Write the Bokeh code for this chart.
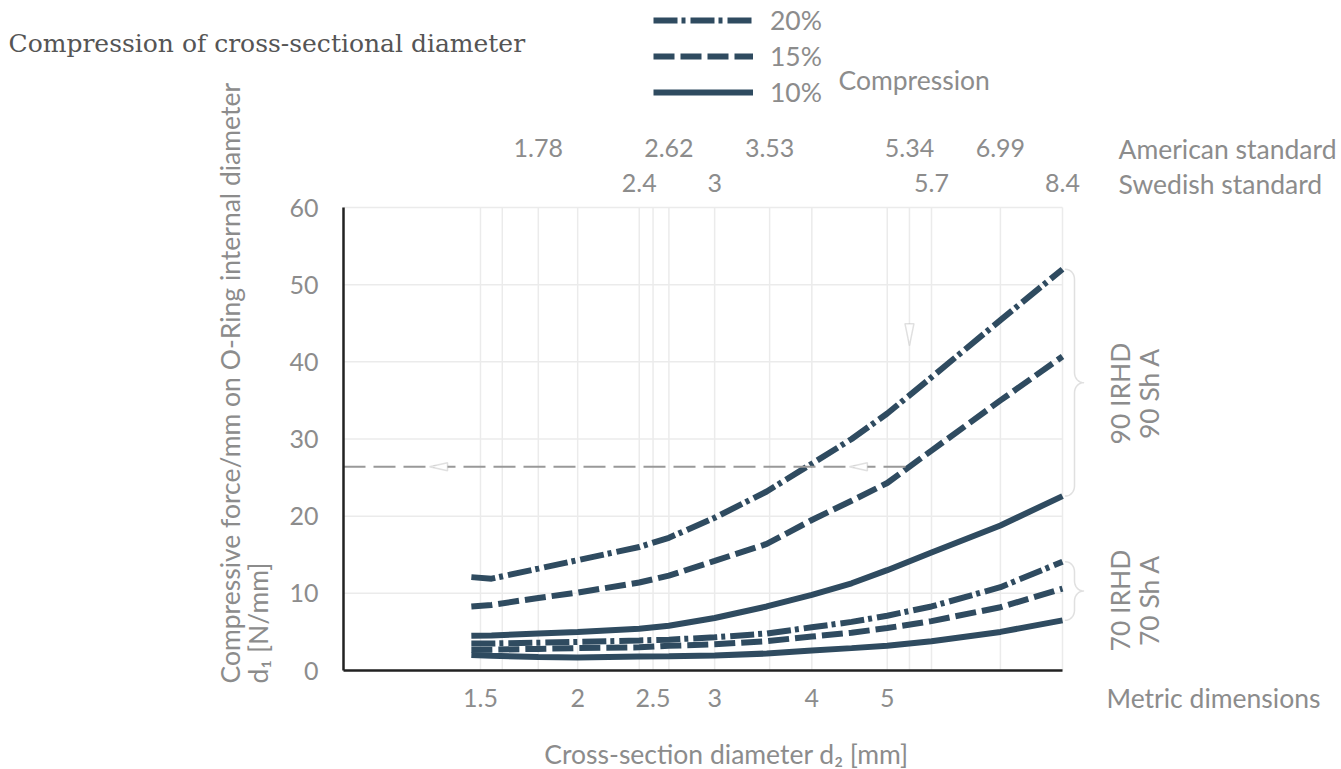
import math
import numpy as np
from bokeh.plotting import figure
from bokeh.models import (FixedTicker, LogAxis, Label, Legend, LegendItem,
                          PolyAnnotation, CustomJSTickFormatter)
from bokeh.embed import file_html
from bokeh.resources import INLINE

# ---------------- data ----------------
d2 = [1.46, 1.55, 1.78, 2.0, 2.4, 2.62, 3.0, 3.5, 4.0, 4.5, 5.0, 5.7, 6.99, 8.4]
f90_20 = [12.1, 11.9, 13.2, 14.3, 16.0, 17.2, 19.8, 23.2, 26.8, 30.0, 33.3, 38.0, 45.4, 52.0]
f90_15 = [8.3, 8.5, 9.4, 10.1, 11.4, 12.3, 14.2, 16.4, 19.5, 22.0, 24.3, 28.5, 35.0, 40.7]
f90_10 = [4.5, 4.55, 4.8, 5.0, 5.4, 5.8, 6.8, 8.3, 9.8, 11.3, 13.0, 15.3, 18.8, 22.6]
f70_20 = [3.5, 3.5, 3.6, 3.7, 3.9, 4.0, 4.3, 4.8, 5.6, 6.3, 7.1, 8.3, 10.8, 14.1]
f70_15 = [2.7, 2.7, 2.8, 2.9, 3.0, 3.2, 3.4, 3.8, 4.4, 4.9, 5.5, 6.4, 8.2, 10.6]
f70_10 = [2.0, 1.9, 1.75, 1.7, 1.8, 1.85, 1.95, 2.2, 2.6, 2.9, 3.2, 3.8, 5.0, 6.5]

compression_labels = ["20%", "15%", "10%"]

metric_ticks = [1.5, 2, 2.5, 3, 4, 5]
metric_labels = ["1.5", "2", "2.5", "3", "4", "5"]
american_ticks = [1.78, 2.62, 3.53, 5.34, 6.99]
american_labels = ["1.78", "2.62", "3.53", "5.34", "6.99"]
swedish_ticks = [1.6, 2.4, 3, 5.7, 8.4]
swedish_labels = ["", "2.4", "3", "5.7", "8.4"]
y_ticks = [0, 10, 20, 30, 40, 50, 60]

example_force = 26.4      # horizontal read-off line
example_d2 = 5.34         # chosen cross-section
arrow_marks_x = [1.29, 4.47]
arrow_mark_down_y = 42.1

# ---------------- layout / styling ----------------
LINE = "#2f4b60"
GRAY = "#8c8c8c"
AGRAY = "#999999"
GRID = "#ebebeb"
FONT = "Lato"
FS = "25px"       # numbers
FT_ = "26.5px"    # words

W, H = 1341, 769
FL, FR, FT, FB = 343, 1062, 207, 670          # plot area in page pixels
X0, X1 = 1.0, 8.4
Y0, Y1 = 0, 60
KX = (FR - FL) / (math.log10(X1) - math.log10(X0))
KY = (FB - FT) / (Y1 - Y0)
x_lo = 10 ** (math.log10(X0) - FL / KX)
x_hi = 10 ** (math.log10(X0) + (W - FL) / KX)
y_lo = Y0 - (H - FB) / KY
y_hi = Y0 + FB / KY


def sx(x):   # data -> screen x (from left)
    return FL + KX * (math.log10(x) - math.log10(X0))


def sy(y):   # data -> screen y (from bottom)
    return (H - FB) + KY * (y - Y0)


def fmt(tick_list, label_list):
    return CustomJSTickFormatter(args=dict(tk=tick_list, lb=label_list),
                                 code="const i = tk.indexOf(tick); return i >= 0 ? lb[i] : '';")


p = figure(width=W, height=H, x_axis_type="log", x_range=(x_lo, x_hi), y_range=(y_lo, y_hi),
           output_backend="svg", toolbar_location=None,
           min_border_left=0, min_border_right=0, min_border_top=0, min_border_bottom=0)
p.outline_line_color = None
p.background_fill_color = "white"
p.border_fill_color = "white"
p.xgrid.grid_line_color = None
p.ygrid.grid_line_color = None

# y axis
ya = p.left[0]
ya.fixed_location = X0
ya.bounds = (Y0, Y1)
ya.ticker = FixedTicker(ticks=y_ticks)
ya.axis_line_color = "#222222"
ya.axis_line_width = 2.5
ya.major_tick_line_color = None
ya.minor_tick_line_color = None
ya.major_label_text_font = FONT
ya.major_label_text_font_size = FS
ya.major_label_text_color = GRAY
ya.major_label_standoff = 19

# bottom axis (metric)
xa = p.below[0]
xa.fixed_location = Y0
xa.bounds = (X0, X1)
xa.ticker = FixedTicker(ticks=metric_ticks)
xa.formatter = fmt(metric_ticks, metric_labels)
xa.axis_line_color = "#222222"
xa.axis_line_width = 2.5
xa.major_tick_line_color = None
xa.minor_tick_line_color = None
xa.major_label_text_font = FONT
xa.major_label_text_font_size = FS
xa.major_label_text_color = GRAY
xa.major_label_standoff = 12

# top axes (Swedish and American standard sizes)
for ticks, labels, standoff in [(swedish_ticks, swedish_labels, 10),
                                (american_ticks, american_labels, 45)]:
    ax = LogAxis(ticker=FixedTicker(ticks=ticks), formatter=fmt(ticks, labels),
                 fixed_location=Y1,
                 axis_line_color=None, major_tick_line_color=None, minor_tick_line_color=None,
                 major_label_text_font=FONT, major_label_text_font_size=FS,
                 major_label_text_color=GRAY, major_label_standoff=standoff)
    p.add_layout(ax, "above")

# grid lines (limited to the plot area)
vgrid = sorted(set(metric_ticks + american_ticks + swedish_ticks))
p.segment(x0=vgrid, x1=vgrid, y0=[Y0] * len(vgrid), y1=[Y1] * len(vgrid),
          line_color=GRID, line_width=1.5)
p.segment(x0=[X0] * len(y_ticks), x1=[X1] * len(y_ticks), y0=y_ticks, y1=y_ticks,
          line_color=GRID, line_width=1.5)

# curves
DASHDOT = "24 4 4 5"
DASH = "21 6"
styles = [DASHDOT, DASH, "solid"]
r90 = []
for ys, dash in zip([f90_20, f90_15, f90_10], styles):
    r90.append(p.line(d2, ys, line_color=LINE, line_width=6, line_dash=dash, line_cap="butt"))
for ys, dash in zip([f70_20, f70_15, f70_10], styles):
    p.line(d2, ys, line_color=LINE, line_width=6, line_dash=dash, line_cap="butt")

# read-off line
p.line([X0, example_d2], [example_force, example_force], line_color=AGRAY, line_width=2,
       line_dash="22 8")

for ax_ in arrow_marks_x:
    tx, ty = sx(ax_), sy(example_force)
    p.add_layout(PolyAnnotation(xs=[tx, tx + 18, tx + 18], ys=[ty, ty + 4, ty - 4],
                                xs_units="screen", ys_units="screen",
                                fill_color="white", fill_alpha=1, line_color=AGRAY, line_width=1.5))
tx, ty = sx(example_d2), sy(arrow_mark_down_y)
p.add_layout(PolyAnnotation(xs=[tx, tx - 4.5, tx + 4.5], ys=[ty, ty + 22, ty + 22],
                            xs_units="screen", ys_units="screen",
                            fill_color="white", fill_alpha=1, line_color=AGRAY, line_width=1.5))


# braces
def brace(y_top, y_bot, r=10):
    x_tip, x_mid, x_cusp = sx(X1) + 3, sx(X1) + 12, sx(X1) + 21
    yt, yb = sy(y_top), sy(y_bot)
    yc = (yt + yb) / 2
    rx = x_mid - x_tip
    rc = x_cusp - x_mid
    pts = []
    for t in np.radians(np.linspace(90, 0, 9)):
        pts.append((x_tip + rx * math.cos(t), yt - r + r * math.sin(t)))
    for t in np.radians(np.linspace(180, 270, 9)):
        pts.append((x_cusp + rc * math.cos(t), yc + r + r * math.sin(t)))
    for t in np.radians(np.linspace(90, 180, 9)):
        pts.append((x_cusp + rc * math.cos(t), yc - r + r * math.sin(t)))
    for t in np.radians(np.linspace(0, -90, 9)):
        pts.append((x_tip + rx * math.cos(t), yb + r + r * math.sin(t)))
    full = pts + pts[-2:0:-1]
    return [q[0] for q in full], [q[1] for q in full]


for top, bot in [(f90_20[-1], f90_10[-1]), (f70_20[-1], f70_10[-1])]:
    bx, by = brace(top, bot)
    p.add_layout(PolyAnnotation(xs=bx, ys=by, xs_units="screen", ys_units="screen",
                                fill_alpha=0, line_color=AGRAY, line_width=1.5, line_join="round"))

# legend
legend = Legend(items=[LegendItem(label=l, renderers=[r]) for l, r in zip(compression_labels, r90)],
                location=(653, H - 108), orientation="vertical", glyph_width=100, glyph_height=28,
                label_height=28, spacing=4, padding=0, margin=0, label_standoff=17,
                border_line_color=None, background_fill_alpha=0,
                label_text_font=FONT, label_text_font_size=FT_, label_text_color=GRAY)
p.add_layout(legend)


def lab(x, y, text, **kw):
    # x, y given as page pixels from the top-left corner
    opts = dict(x_units="screen", y_units="screen", text_font=FONT, text_font_size=FT_,
                text_color=GRAY, text_baseline="middle", text_align="left")
    opts.update(kw)
    p.add_layout(Label(x=x, y=H - y, text=text, **opts))


lab(8, 43, "Compression of cross-sectional diameter", text_font="DejaVu Serif",
    text_font_size="25px", text_color="#555555")
lab(838, 79, "Compression")
lab(1118, 148, "American standard")
lab(1118, 183, "Swedish standard")
lab(1106, 697, "Metric dimensions")
lab(726, 753, "Cross-section diameter d₂ [mm]", text_align="center")
lab(229, 683, "Compressive force/mm on O-Ring internal diameter", angle=math.pi / 2)
lab(257, 683, "d₁ [N/mm]", angle=math.pi / 2)
lab(1119, 393, "90 IRHD", angle=math.pi / 2, text_align="center")
lab(1148, 393, "90 Sh A", angle=math.pi / 2, text_align="center")
lab(1119, 600, "70 IRHD", angle=math.pi / 2, text_align="center")
lab(1148, 600, "70 Sh A", angle=math.pi / 2, text_align="center")

open("out.html", "w").write(file_html(p, INLINE))
